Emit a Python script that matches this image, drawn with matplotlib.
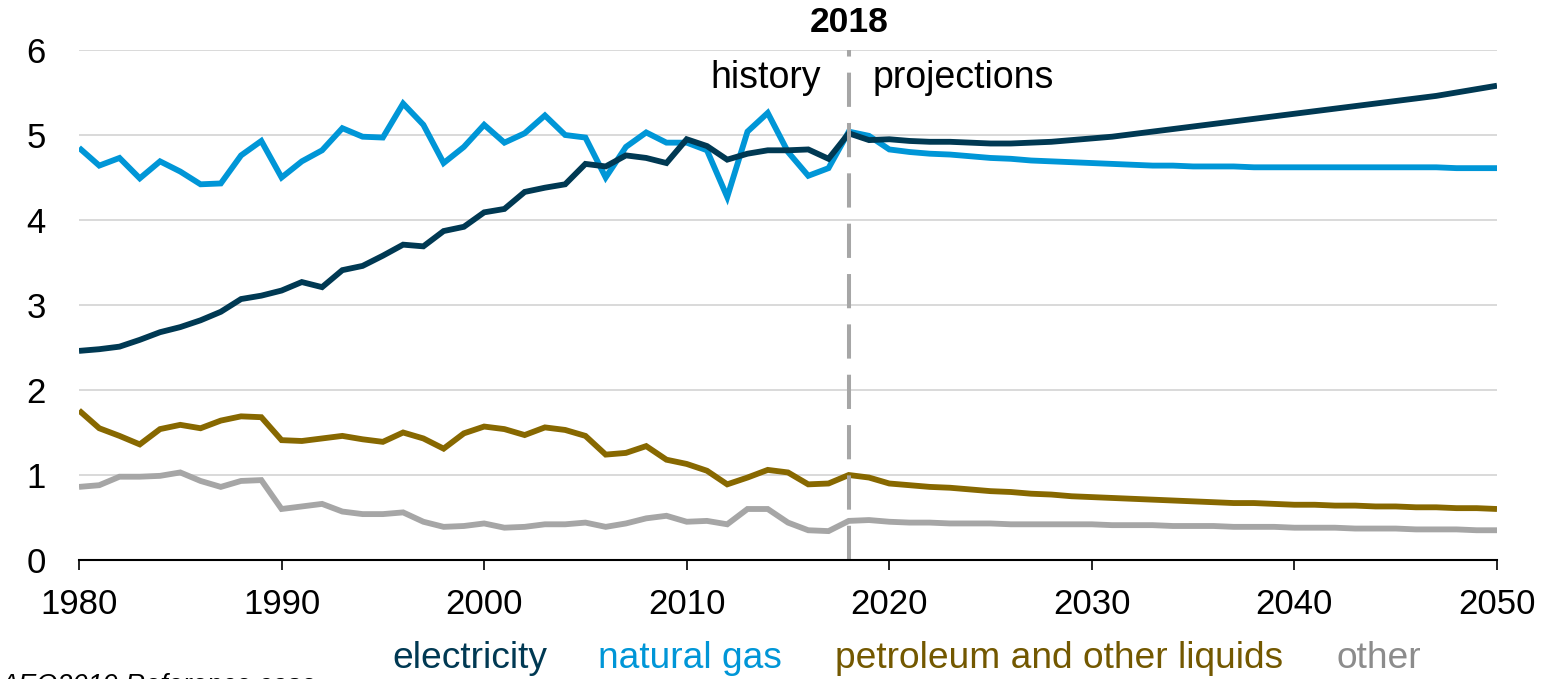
#!/usr/bin/env python3
"""
plot.py — fuel use by source, history (1980-2018) and AEO2019 projections.

Output: out.png
"""

import numpy as np
import matplotlib
matplotlib.use("Agg")
import matplotlib.pyplot as plt

# ── Data ──────────────────────────────────────────────────────────────────
YEARS = list(range(1980, 2051))
LAST_HIST = 2018

ELECTRICITY = [
    2.46, 2.48, 2.51, 2.59, 2.68, 2.74, 2.82, 2.92, 3.07, 3.11,
    3.17, 3.27, 3.21, 3.41, 3.46, 3.58, 3.71, 3.69, 3.87, 3.92,
    4.09, 4.13, 4.33, 4.38, 4.42, 4.66, 4.63, 4.76, 4.73, 4.67,
    4.95, 4.87, 4.71, 4.78, 4.82, 4.82, 4.83, 4.72, 5.02,
    4.94, 4.95, 4.93, 4.92, 4.92, 4.91, 4.90, 4.90, 4.91, 4.92, 4.94, 4.96,
    4.98, 5.01, 5.04, 5.07, 5.10, 5.13, 5.16, 5.19, 5.22, 5.25,
    5.28, 5.31, 5.34, 5.37, 5.40, 5.43, 5.46, 5.50, 5.54, 5.58,
]

NATURAL_GAS = [
    4.85, 4.64, 4.73, 4.49, 4.69, 4.57, 4.42, 4.43, 4.76, 4.93,
    4.50, 4.69, 4.82, 5.08, 4.98, 4.97, 5.37, 5.12, 4.67, 4.86,
    5.12, 4.91, 5.02, 5.23, 5.00, 4.97, 4.50, 4.86, 5.03, 4.91,
    4.91, 4.82, 4.27, 5.04, 5.26, 4.80, 4.52, 4.61, 5.04,
    4.99, 4.83, 4.80, 4.78, 4.77, 4.75, 4.73, 4.72, 4.70, 4.69, 4.68, 4.67,
    4.66, 4.65, 4.64, 4.64, 4.63, 4.63, 4.63, 4.62, 4.62, 4.62,
    4.62, 4.62, 4.62, 4.62, 4.62, 4.62, 4.62, 4.61, 4.61, 4.61,
]

PETROLEUM = [
    1.76, 1.55, 1.46, 1.36, 1.54, 1.59, 1.55, 1.64, 1.69, 1.68,
    1.41, 1.40, 1.43, 1.46, 1.42, 1.39, 1.50, 1.43, 1.31, 1.49,
    1.57, 1.54, 1.47, 1.56, 1.53, 1.46, 1.24, 1.26, 1.34, 1.18,
    1.13, 1.05, 0.89, 0.97, 1.06, 1.03, 0.89, 0.90, 1.00,
    0.97, 0.90, 0.88, 0.86, 0.85, 0.83, 0.81, 0.80, 0.78, 0.77, 0.75, 0.74,
    0.73, 0.72, 0.71, 0.70, 0.69, 0.68, 0.67, 0.67, 0.66, 0.65,
    0.65, 0.64, 0.64, 0.63, 0.63, 0.62, 0.62, 0.61, 0.61, 0.60,
]

OTHER = [
    0.86, 0.88, 0.98, 0.98, 0.99, 1.03, 0.93, 0.86, 0.93, 0.94,
    0.60, 0.63, 0.66, 0.57, 0.54, 0.54, 0.56, 0.45, 0.39, 0.40,
    0.43, 0.38, 0.39, 0.42, 0.42, 0.44, 0.39, 0.43, 0.49, 0.52,
    0.45, 0.46, 0.42, 0.60, 0.60, 0.44, 0.35, 0.34, 0.46,
    0.47, 0.45, 0.44, 0.44, 0.43, 0.43, 0.43, 0.42, 0.42, 0.42, 0.42, 0.42,
    0.41, 0.41, 0.41, 0.40, 0.40, 0.40, 0.39, 0.39, 0.39, 0.38,
    0.38, 0.38, 0.37, 0.37, 0.37, 0.36, 0.36, 0.36, 0.35, 0.35,
]

SERIES_NAMES = ["electricity", "natural gas", "petroleum and other liquids", "other"]
X_TICKS = [1980, 1990, 2000, 2010, 2020, 2030, 2040, 2050]
Y_TICKS = [0, 1, 2, 3, 4, 5, 6]

# ── Style ──────────────────────────────────────────────────────────────────
LINE_COLORS = ["#003953", "#0096D7", "#876800", "#A6A6A6"]
TEXT_COLORS = ["#003953", "#0096D7", "#735800", "#8C8C8C"]
FONT = "Liberation Sans"

plt.rcParams["font.family"] = [FONT, "DejaVu Sans"]

W, H = 1546, 679
fig = plt.figure(figsize=(W / 100, H / 100), dpi=100)
ax = fig.add_axes([79 / W, 1 - 560 / H, (1497 - 79) / W, (560 - 50) / H])

years = np.array(YEARS)
for vals, color in zip([OTHER, PETROLEUM, NATURAL_GAS, ELECTRICITY],
                       LINE_COLORS[::-1]):
    ax.plot(years, vals, color=color, lw=4.2, solid_joinstyle="miter",
            solid_capstyle="butt", zorder=3)

# history / projections divider
ax.axvline(LAST_HIST, color="#A6A6A6", lw=2.9, dashes=(8.5, 4), zorder=4)

ax.set_xlim(1980, 2050)
ax.set_ylim(0, 6)
ax.set_xticks(X_TICKS)
ax.set_yticks(Y_TICKS)
ax.grid(axis="y", color="#D9D9D9", lw=1.4, zorder=0)
ax.set_axisbelow(True)

for side in ("top", "right", "left"):
    ax.spines[side].set_visible(False)
ax.spines["bottom"].set_color("black")
ax.spines["bottom"].set_linewidth(1.5)
ax.spines["bottom"].set_zorder(5)

ax.tick_params(axis="y", length=0, pad=24, labelsize=25)
ax.tick_params(axis="x", length=7, width=1.2, pad=13.5, labelsize=25,
               direction="out")

# annotations near the divider
ax.text(LAST_HIST, 6.0 + 28 / 85, "2018", ha="center", va="center",
        fontsize=25.5, fontweight="bold", clip_on=False)
ax.text(LAST_HIST - 1.4, 6.0 - 28 / 85, "history", ha="right", va="center",
        fontsize=27)
ax.text(LAST_HIST + 1.2, 6.0 - 28 / 85, "projections", ha="left",
        va="center", fontsize=27)

# coloured-text legend along the bottom
legend_x = [392, 598, 835, 1336]
for name, color, x in zip(SERIES_NAMES, TEXT_COLORS, legend_x):
    fig.text(x / W, 1 - 658 / H, name, color=color, fontsize=26.7,
             ha="left", va="center")

fig.text(0 / W, 1 - 686 / H, "AEO2019 Reference case", fontsize=19.5,
         style="italic", ha="left", va="center")

fig.savefig("out.png", dpi=100)
